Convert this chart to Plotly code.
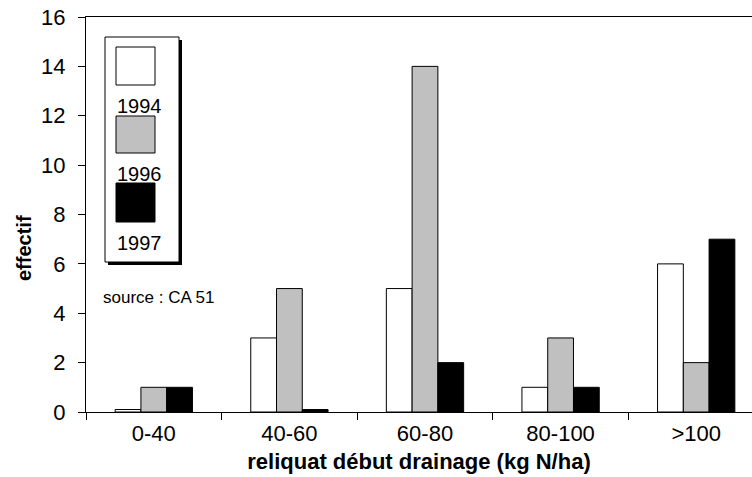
import plotly.graph_objects as go

# Classes de reliquat et effectifs par année
categories = ["0-40", "40-60", "60-80", "80-100", ">100"]
years = ["1994", "1996", "1997"]
eff_1994 = [0.1, 3, 5, 1, 6]
eff_1996 = [1, 5, 14, 3, 2]
eff_1997 = [1, 0.1, 2, 1, 7]
y_ticks = [0, 2, 4, 6, 8, 10, 12, 14, 16]

series = [eff_1994, eff_1996, eff_1997]
fills = ["#ffffff", "#c0c0c0", "#000000"]

W, H = 752, 477
ML, MT, MB, MR = 86, 17, 65, 0
PW, PH = W - ML - MR, H - MT - MB

fig = go.Figure()
for name, vals, col in zip(years, series, fills):
    fig.add_trace(go.Bar(
        x=categories, y=vals, name=name,
        marker=dict(color=col, line=dict(color="#000000", width=1)),
        showlegend=False,
    ))

font = "Liberation Sans, Arial, sans-serif"


def px(x):
    return (x - ML) / PW


def py(y):
    return (H - MB - y) / PH


shapes = []
annotations = []

# cadre de la légende avec ombre portée
shapes.append(dict(type="rect", xref="paper", yref="paper",
                   x0=px(108), x1=px(182), y0=py(40), y1=py(265),
                   fillcolor="#000000", line=dict(width=0)))
shapes.append(dict(type="rect", xref="paper", yref="paper",
                   x0=px(105), x1=px(179), y0=py(37), y1=py(262),
                   fillcolor="#ffffff", line=dict(color="#000000", width=1)))

swatch_rows = [(47, 85, 106), (116, 153, 174), (183, 222, 243)]
for (top, bot, lab), name, col in zip(swatch_rows, years, fills):
    shapes.append(dict(type="rect", xref="paper", yref="paper",
                       x0=px(116), x1=px(155), y0=py(bot), y1=py(top),
                       fillcolor=col, line=dict(color="#000000", width=1)))
    annotations.append(dict(xref="paper", yref="paper", x=px(115), y=py(lab),
                            text=name, showarrow=False, xanchor="left",
                            yanchor="middle",
                            font=dict(family=font, size=20, color="#000000")))

annotations.append(dict(xref="paper", yref="paper", x=px(101), y=py(297),
                        text="source : CA 51", showarrow=False,
                        xanchor="left", yanchor="middle",
                        font=dict(family=font, size=17, color="#000000")))

# titre de l'axe vertical
annotations.append(dict(xref="paper", yref="paper", x=px(24), y=py(248),
                        text="<b>effectif</b>", showarrow=False,
                        textangle=-90, xanchor="center", yanchor="middle",
                        font=dict(family=font, size=20, color="#000000")))

fig.update_layout(
    width=W, height=H,
    margin=dict(l=ML, r=MR, t=MT, b=MB, pad=0),
    paper_bgcolor="#ffffff", plot_bgcolor="#ffffff",
    barmode="group", bargap=0.43, bargroupgap=0,
    font=dict(family=font, color="#000000"),
    shapes=shapes, annotations=annotations,
    xaxis=dict(
        type="category", range=[-0.5, -0.5 + PW / 135.6],
        tickson="boundaries", ticks="outside", ticklen=7, tickwidth=1,
        tickcolor="#000000", showline=True, linecolor="#000000",
        linewidth=1, mirror=True, showgrid=False, ticklabelstandoff=2,
        tickfont=dict(family=font, size=22, color="#000000"),
        title=dict(text="<b>reliquat début drainage (kg N/ha)</b>",
                   font=dict(family=font, size=22, color="#000000"),
                   standoff=8),
    ),
    yaxis=dict(
        range=[0, 16], tickvals=y_ticks, ticks="outside", ticklen=7,
        tickwidth=1, tickcolor="#000000", showline=True,
        linecolor="#000000", linewidth=1, showgrid=False, zeroline=False,
        ticklabelstandoff=8,
        tickfont=dict(family=font, size=22, color="#000000"),
    ),
)

fig.write_html("out.html")
